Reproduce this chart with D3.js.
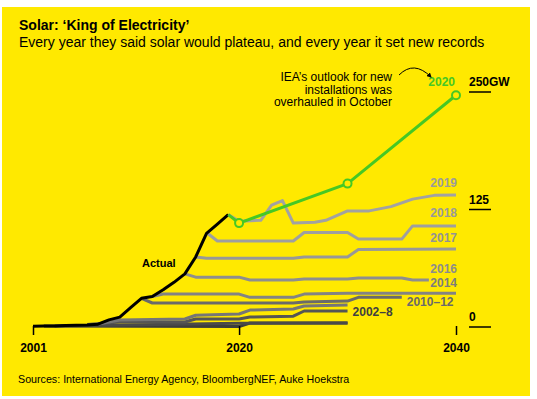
<!DOCTYPE html>
<html>
<head>
<meta charset="utf-8">
<script src="https://cdn.jsdelivr.net/npm/d3@7"></script>
<style>
  body { margin: 0; background: #fff; }
  svg { display: block; font-family: "Liberation Sans", Arial, Helvetica, sans-serif; }
</style>
</head>
<body>
<div id="chart"></div>
<script>
// actual installations, GW per year
var actualYears = [2001, 2002, 2003, 2004, 2005, 2006, 2007, 2008, 2009, 2010,
                   2011, 2012, 2013, 2014, 2015, 2016, 2017, 2018, 2019];
var actualGW    = [0.3, 0.5, 0.6, 1, 1.3, 1.6, 2.5, 7, 10, 20,
                   30, 32, 39, 47, 56, 74, 99, 109, 119];

// IEA outlooks, [year, GW]
var weo2020 = [[2019,119],[2020,110],[2030,152],[2040,246]];
var weo2019 = [[2019,119],[2020,112],[2022,113],[2023,129],[2024,134],[2025,110],[2027,111],
               [2028,113],[2030,123],[2032,123],[2034,127.5],[2036,135.5],[2038,139.5],[2040,140]];
var weo2018 = [[2017,100],[2018,91],[2025,91],[2026,100],[2030,100],[2031,93],[2035,93],[2036,107],[2040,107]];
var weo2017 = [[2016,74],[2017,72.5],[2025,72.5],[2026,74],[2030,74],[2031,82],[2040,82.5]];
var weo2016 = [[2015,56],[2016,52.5],[2020,52.5],[2021,49.5],[2025,49.5],[2026,50.5],[2030,50.5],
               [2031,51.5],[2035,51.5],[2036,49.5],[2037.5,49.5]];
var weo2014 = [[2012,32],[2013,34.5],[2020,34.5],[2021,31],[2025,31],[2026,34.5],[2030,35.5],[2040,35.5]];
var weo2012 = [[2011,30],[2012,25],[2025,25],[2026,26],[2030,27],[2031,31],[2035,31]];
var weo2010 = [[2007,2.5],[2009,7],[2015,8],[2016,12],[2020,13.3],[2021,17.5],[2025,18.6],[2026,21.8],[2030,23]];
var weo2008 = [[2006,2],[2009,4.8],[2015,4.8],[2016,8],[2020,8],[2021,10],[2025,11],[2026,16.5],[2030,16.5]];
var weo2004 = [[2003,0.6],[2014,2.5],[2020,3.5],[2030,3.8]];
var weo2002 = [[2002,0.4],[2020,0],[2021,3.7],[2030,3.7]];

var xTicks = [2001, 2020, 2040];
var yTicks = [0, 125, 250];
var yTickLabels = ["0", "125", "250GW"];

// ---------------------------------------------------------------
const width = 537, height = 399;

var svg = d3.select("#chart")
  .append("svg")
  .attr("width", width)
  .attr("height", height);

svg.append("rect")
  .attr("x", 2).attr("y", 7)
  .attr("width", 528).attr("height", 389)
  .attr("fill", "#ffe900");

// titles
svg.append("text")
  .attr("x", 19).attr("y", 30)
  .attr("font-size", 14).attr("font-weight", "bold")
  .text("Solar: \u2018King of Electricity\u2019");
svg.append("text")
  .attr("x", 19).attr("y", 47)
  .attr("font-size", 14)
  .text("Every year they said solar would plateau, and every year it set new records");

// scales
const x = d3.scaleLinear().domain([2001, 2040]).range([33, 456]);
const y = d3.scaleLinear().domain([0, 250]).range([326.5, 91.5]);

const line = d3.line()
  .x(d => x(d[0]))
  .y(d => y(d[1]));

// outlook lines, darkest at the back
var outlooks = [
  { data: weo2002, color: "#3d3d3d" },
  { data: weo2004, color: "#4a4a4a" },
  { data: weo2008, color: "#555555" },
  { data: weo2010, color: "#767676" },
  { data: weo2012, color: "#6a6a6a" },
  { data: weo2014, color: "#838383" },
  { data: weo2016, color: "#8e8e8e" },
  { data: weo2017, color: "#989898" },
  { data: weo2018, color: "#9f9f9f" },
  { data: weo2019, color: "#a2a2a2" }
];

svg.selectAll("path.outlook")
  .data(outlooks)
  .enter()
  .append("path")
  .attr("class", "outlook")
  .attr("d", d => line(d.data))
  .attr("fill", "none")
  .attr("stroke", d => d.color)
  .attr("stroke-width", 3)
  .attr("stroke-linejoin", "round");

// actual
var actual = actualYears.map((yr, i) => [yr, actualGW[i]]);
svg.append("path")
  .attr("d", line(actual))
  .attr("fill", "none")
  .attr("stroke", "#000")
  .attr("stroke-width", 3)
  .attr("stroke-linejoin", "round");

// 2020 outlook in green
const green = "#46c824";
svg.append("path")
  .attr("d", line(weo2020))
  .attr("fill", "none")
  .attr("stroke", green)
  .attr("stroke-width", 3)
  .attr("stroke-linejoin", "round");
svg.selectAll("circle")
  .data(weo2020.slice(1))
  .enter()
  .append("circle")
  .attr("cx", d => x(d[0]))
  .attr("cy", d => y(d[1]))
  .attr("r", 4)
  .attr("fill", "#ffe900")
  .attr("stroke", green)
  .attr("stroke-width", 2);

// series labels
var rightLabels = [
  { text: "2019", data: weo2019, color: "#9b9b9b", dy: -8 },
  { text: "2018", data: weo2018, color: "#999999", dy: -9 },
  { text: "2017", data: weo2017, color: "#939393", dy: -7 },
  { text: "2016", data: weo2016, color: "#8c8c8c", dy: -7 },
  { text: "2014", data: weo2014, color: "#7d7d7d", dy: -6 }
];
svg.selectAll("text.rlab")
  .data(rightLabels)
  .enter()
  .append("text")
  .attr("class", "rlab")
  .attr("x", x(2040) + 1)
  .attr("y", d => y(d.data[d.data.length - 1][1]) + d.dy)
  .attr("text-anchor", "end")
  .attr("font-size", 12).attr("font-weight", "bold")
  .attr("fill", d => d.color)
  .text(d => d.text);

var endLabels = [
  { text: "2010\u201312", data: weo2012, color: "#6a6a6a", dy: 9 },
  { text: "2002\u20138", data: weo2008, color: "#404040", dy: 5 }
];
svg.selectAll("text.elab")
  .data(endLabels)
  .enter()
  .append("text")
  .attr("class", "elab")
  .attr("x", d => x(d.data[d.data.length - 1][0]) + 5)
  .attr("y", d => y(d.data[d.data.length - 1][1]) + d.dy)
  .attr("font-size", 12).attr("font-weight", "bold")
  .attr("fill", d => d.color)
  .text(d => d.text);

svg.append("text")
  .attr("x", x(2040) - 1)
  .attr("y", y(weo2020[weo2020.length - 1][1]) - 9)
  .attr("text-anchor", "end")
  .attr("font-size", 12).attr("font-weight", "bold")
  .attr("fill", green)
  .text("2020");

svg.append("text")
  .attr("x", 142).attr("y", 267)
  .attr("font-size", 11).attr("font-weight", "bold")
  .text("Actual");

// annotation + arrow
var note = svg.append("text")
  .attr("x", 392).attr("y", 81)
  .attr("text-anchor", "end")
  .attr("font-size", 12);
["IEA\u2019s outlook for new", "installations was", "overhauled in October"].forEach((t, i) => {
  note.append("tspan").attr("x", 392).attr("dy", i ? 12.5 : 0).text(t);
});

svg.append("defs").append("marker")
  .attr("id", "head")
  .attr("viewBox", "0 0 10 10")
  .attr("refX", 8).attr("refY", 5)
  .attr("markerWidth", 5).attr("markerHeight", 5)
  .attr("orient", "auto")
  .append("path")
  .attr("d", "M0,0 L10,5 L0,10 z")
  .attr("fill", "#000");
svg.append("path")
  .attr("d", "M399,75 Q414,60 431,77")
  .attr("fill", "none")
  .attr("stroke", "#000")
  .attr("stroke-width", 1)
  .attr("marker-end", "url(#head)");

// x axis
var xAxis = svg.append("g")
  .attr("transform", "translate(0,326)")
  .call(d3.axisBottom(x).tickValues(xTicks).tickFormat(d3.format("d")).tickSize(9).tickPadding(8));
xAxis.select(".domain").remove();
xAxis.selectAll("line").attr("stroke", "#000").attr("stroke-width", 1.5);
xAxis.selectAll("text")
  .attr("font-family", null)
  .attr("font-size", 12).attr("font-weight", "bold").attr("fill", "#000");

// y axis on the right: short rules with labels above
var yAxis = svg.append("g")
  .attr("transform", "translate(469,0)")
  .call(d3.axisRight(y).tickValues(yTicks).tickFormat((d, i) => yTickLabels[i]).tickSize(22));
yAxis.select(".domain").remove();
yAxis.selectAll("line").attr("stroke", "#000").attr("stroke-width", 1.5);
yAxis.selectAll("text")
  .attr("x", 0).attr("dy", -6)
  .attr("text-anchor", "start")
  .attr("font-family", null)
  .attr("font-size", 12).attr("font-weight", "bold").attr("fill", "#000");

// source
svg.append("text")
  .attr("x", 18).attr("y", 383)
  .attr("font-size", 10.7)
  .text("Sources: International Energy Agency, BloombergNEF, Auke Hoekstra");
</script>
</body>
</html>
